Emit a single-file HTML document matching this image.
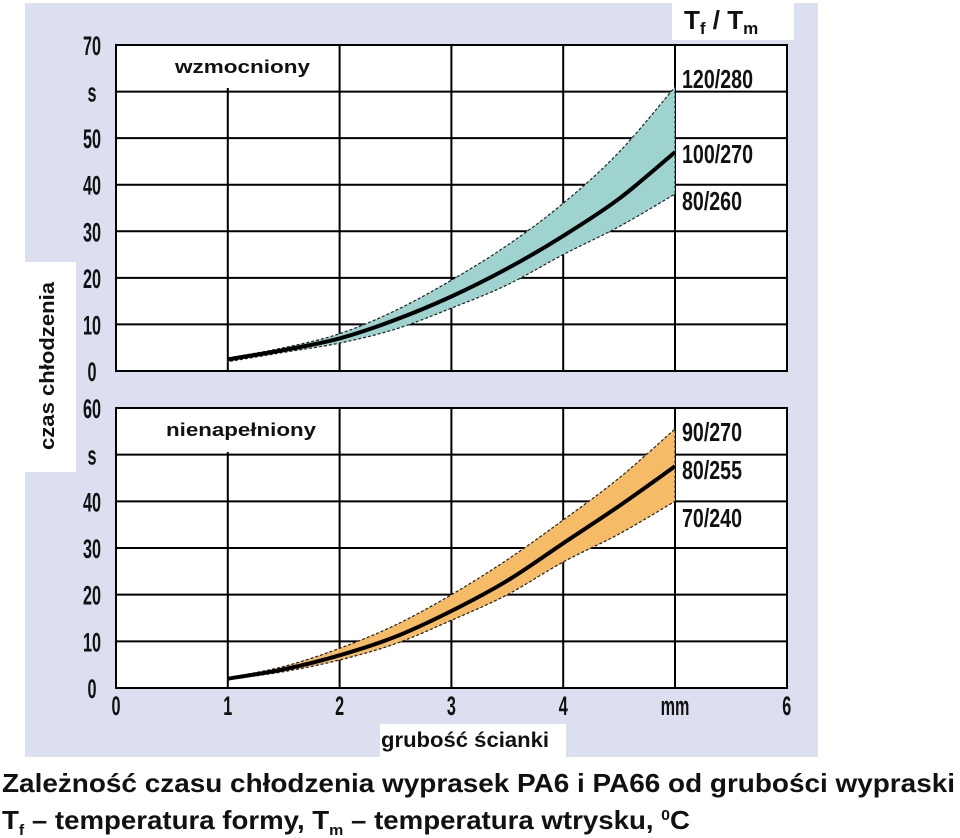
<!DOCTYPE html>
<html><head><meta charset="utf-8"><style>
body{margin:0;background:#fff;width:960px;height:838px;overflow:hidden}
svg{display:block}
.n{font-family:"Liberation Sans",sans-serif;font-weight:bold;fill:#111}
</style></head><body>
<svg id="c" width="960" height="838" xmlns="http://www.w3.org/2000/svg">
<rect x="25" y="3" width="793" height="754" fill="#dcdff0"/>
<rect x="25" y="262" width="51" height="210" fill="#fff"/>
<text class="n" transform="translate(54,450) rotate(-90)" font-size="20" textLength="168" lengthAdjust="spacingAndGlyphs">czas chłodzenia</text>
<rect x="672" y="3" width="122" height="37" fill="#fff"/>
<text class="n" x="684" y="29" font-size="26" font-weight="normal">T<tspan font-size="17" dy="5">f</tspan><tspan dy="-5"> / T</tspan><tspan font-size="17" dy="5">m</tspan></text>
<rect x="380" y="724" width="186" height="33" fill="#fff"/>
<text class="n" x="381" y="747" font-size="21" textLength="168" lengthAdjust="spacingAndGlyphs">grubość ścianki</text>
<g id="g"></g>
<text class="n" x="2" y="792" font-size="26" textLength="953" lengthAdjust="spacingAndGlyphs">Zależność czasu chłodzenia wyprasek PA6 i PA66 od grubości wypraski</text>
<text class="n" x="2" y="829" font-size="26" textLength="688" lengthAdjust="spacingAndGlyphs">T<tspan font-size="15" dy="6">f</tspan><tspan dy="-6"> – temperatura formy, T</tspan><tspan font-size="15" dy="6">m</tspan><tspan dy="-6"> – temperatura wtrysku, </tspan><tspan font-size="15" dy="-9">0</tspan><tspan dy="9">C</tspan></text>
</svg>
<script>
const xs=[1,1.5,2,2.5,3,3.5,4,4.5,5];
const topMid=[2.5,4.5,7,11,16,22,29,37,47];
const topUp=[2.8,5,8,13,19.5,27,36,47,61];
const topLow=[2,4,6,9,13.5,18.5,25,31,38];
const botMid=[2,4,7,11,16.5,23,31,39,47.5];
const botUp=[2.2,4.6,8.5,13.5,20,27.5,36,45,55.5];
const botLow=[1.8,3.5,6,9.5,14.5,20,27,33,40];
const xTicks=["0","1","2","3","4","mm","6"];
const topTicks=["0","10","20","30","40","50","s","70"];
const botTicks=["0","10","20","30","40","s","60"];
const topLabels=["120/280","100/270","80/260"];
const botLabels=["90/270","80/255","70/240"];
const NS="http://www.w3.org/2000/svg";
const g=document.getElementById('g');
function el(t,a,p){const e=document.createElementNS(NS,t);for(const k in a)e.setAttribute(k,a[k]);(p||g).appendChild(e);return e;}
const X=v=>116+v*111.8;
function smooth(pts,start){
  let d=start?('M'+pts[0][0].toFixed(1)+','+pts[0][1].toFixed(1)):('L'+pts[0][0].toFixed(1)+','+pts[0][1].toFixed(1));
  for(let i=0;i<pts.length-1;i++){
    const p0=pts[i-1]||pts[i],p1=pts[i],p2=pts[i+1],p3=pts[i+2]||p2;
    const c1=[p1[0]+(p2[0]-p0[0])/6,p1[1]+(p2[1]-p0[1])/6];
    const c2=[p2[0]-(p3[0]-p1[0])/6,p2[1]-(p3[1]-p1[1])/6];
    d+='C'+c1.map(v=>v.toFixed(1))+' '+c2.map(v=>v.toFixed(1))+' '+p2.map(v=>v.toFixed(1));
  }
  return d;
}
function panel(name,top,bot,max,ticks,up,mid,low,labels,title,lblY,x1Start){
  const Y=v=>bot-(v/max)*(bot-top);
  const grp=el('g',{});
  
  
  const bg=el('rect',{x:116,y:top,width:671,height:bot-top,fill:'#fff',stroke:'#000','stroke-width':2},grp);
  
  
  for(let i=1;i<ticks.length-1;i++){const l=el('line',{x1:116,x2:787,y1:Y(i*10),y2:Y(i*10),stroke:'#000','stroke-width':2},grp);
    
    }
  for(let i=1;i<=5;i++){const l=el('line',{x1:X(i),x2:X(i),y1:i==1?x1Start:top,y2:bot,stroke:'#000','stroke-width':2},grp);
    
    }
  ticks.forEach((t,i)=>{const e=el('text',{x:92,y:Y(i*10)+10,'font-size':27,'text-anchor':'middle',class:'n',transform:`translate(92,0) scale(0.6,1) translate(-92,0)`},grp);
    e.textContent=t;
    
    });
  const P=arr=>xs.map((x,i)=>[X(x),Y(arr[i])]);
  const band=smooth(P(up),true)+smooth(P(low).reverse(),false)+'Z';
  const b=el('path',{d:band,fill:name=='top'?'#9fd3d0':'#f5bb66',stroke:'#222','stroke-width':1.2,'stroke-dasharray':'3,2'},grp);
  
  
  const m=el('path',{d:smooth(P(mid),true),fill:'none',stroke:'#000','stroke-width':4},grp);
  
  
  const tt=el('text',{x:name=='top'?175:166,y:top+28,'font-size':18,class:'n',textLength:name=='top'?135:150,lengthAdjust:'spacingAndGlyphs'},grp);
  tt.textContent=title;
  
  
  labels.forEach((s,i)=>{const e=el('text',{x:682,y:lblY[i],'font-size':26,class:'n','font-weight':'normal',textLength:s.length==7?71:60,lengthAdjust:'spacingAndGlyphs'},grp);
    e.textContent=s;
    
    });
}
panel('top',45,371,70,topTicks,topUp,topMid,topLow,topLabels,'wzmocniony',[88,163,210],88);
panel('bottom',408,688,60,botTicks,botUp,botMid,botLow,botLabels,'nienapełniony',[441,479,527],452);
xTicks.forEach((t,i)=>{const e=el('text',{x:X(i),y:715,'font-size':27,'text-anchor':'middle',class:'n',transform:`translate(${X(i)},0) scale(0.6,1) translate(${-X(i)},0)`});
  e.textContent=t;
  
  });
</script>
</body></html>
